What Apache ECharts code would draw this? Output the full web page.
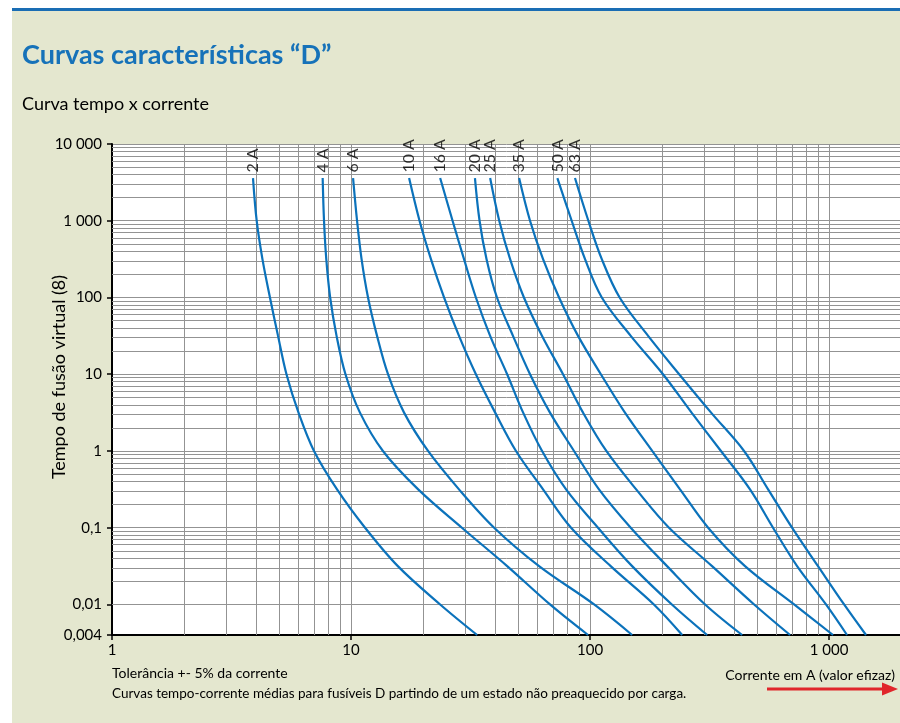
<!DOCTYPE html>
<html><head><meta charset="utf-8">
<script src="https://cdn.jsdelivr.net/npm/echarts@6/dist/echarts.min.js"></script>
<style>html,body{margin:0;padding:0;background:#fff;overflow:hidden}#c{width:900px;height:723px}</style>
</head><body><div id="c"></div>
<script>
// ---- data: melting time (s) levels and the current (A) read for each fuse at those times ----
const fuseNames  = ['2 A','4 A','6 A','10 A','16 A','20 A','25 A','35 A','50 A','63 A'];
const timeLevels = [3600, 1000, 316, 100, 31.6, 10, 3.16, 1, 0.316, 0.1, 0.0316, 0.01, 0.004];
const current2A  = [3.89, 4.03, 4.26, 4.58, 4.95, 5.37, 6.03, 7.00, 8.74, 11.45, 15.7, 23.6, 33.7];
const current4A  = [7.61, 7.71, 7.88, 8.18, 8.70, 9.48, 10.9, 13.6, 19.1, 29.1, 45.0, 68.0, 98.1];
const current6A  = [10.2, 10.6, 11.07, 11.78, 12.85, 14.28, 16.67, 21.0, 28.3, 39.7, 61.2, 104, 150];
const current10A = [17.5, 19.35, 21.6, 24.5, 28.3, 33.3, 40.1, 49.0, 63.6, 83.3, 122, 185, 243];
const current16A = [23.6, 26.6, 29.7, 33.3, 38.2, 45.0, 52.5, 63.0, 79.4, 108, 150, 220, 309];
const current20A = [33.0, 34.5, 36.9, 40.8, 47.6, 56.1, 68.0, 85.7, 109, 148, 210, 303, 433];
const current25A = [38.2, 41.7, 46.3, 52.9, 63.0, 77.1, 93.5, 117, 156, 214, 324, 486, 687];
const current35A = [50.5, 56.1, 63.6, 74.2, 89.1, 111, 140, 182, 238, 312, 445, 714, 1039];
const current50A = [73.0, 83.8, 95.3, 112, 148, 202, 266, 353, 467, 583, 735, 971, 1189];
const current63A = [86.5, 98.4, 112, 133, 175, 236, 321, 441, 556, 700, 899, 1156, 1428];

const xTickValues = [1, 10, 100, 1000];
const xTickLabels = ['1', '10', '100', '1 000'];
const yTickValues = [10000, 1000, 100, 10, 1, 0.1, 0.01, 0.004];
const yTickLabels = ['10 000', '1 000', '100', '10', '1', '0,1', '0,01', '0,004'];

const titleText = 'Curvas características “D”';
const subtitleText = 'Curva tempo x corrente';
const yName = 'Tempo de fusão virtual (8)';
const xName = 'Corrente em A (valor efizaz)';
const note1 = 'Tolerância +- 5% da corrente';
const note2 = 'Curvas tempo-corrente médias para fusíveis D partindo de um estado não preaquecido por carga.';

// ---- chart ----
const currents = [current2A, current4A, current6A, current10A, current16A, current20A, current25A, current35A, current50A, current63A];
const curves = currents.map(arr => arr.map((c, i) => [c, timeLevels[i]]));
const FONT = 'Lato';
const X_MIN = 1, X_MAX = 2000, Y_MIN = 0.004, Y_MAX = 10000;

function lookup(values, labels) {
  return function (v) {
    const i = values.findIndex(t => Math.abs(Math.log10(t) - Math.log10(v)) < 1e-6);
    return i >= 0 ? labels[i] : '';
  };
}

// minor log grid values (2..9 per decade)
const xMinor = [], yMinor = [];
for (let e = 0; e <= 2; e++) for (let k = 2; k <= 9; k++) xMinor.push(k * Math.pow(10, e));
for (let e = -3; e <= 3; e++) for (let k = 2; k <= 9; k++) {
  const v = +(k * Math.pow(10, e)).toPrecision(6);
  if (v > Y_MIN && v < Y_MAX) yMinor.push(v);
}

const GRID_COLOR = '#939393';
const series = [{
  type: 'line', data: [], z: 1, silent: true,
  markLine: {
    silent: true, animation: false, symbol: ['none', 'none'],
    label: { show: false },
    lineStyle: { color: GRID_COLOR, width: 1, type: 'solid' },
    emphasis: { disabled: true },
    data: xMinor.map(v => ({ xAxis: v })).concat(yMinor.map(v => ({ yAxis: v })))
  }
}];
curves.forEach((c, i) => {
  series.push({
    type: 'line', name: fuseNames[i], data: c, z: 5, silent: true,
    symbol: 'none', showSymbol: false, smooth: 0.35,
    lineStyle: { color: '#0b72bb', width: 2.2 }, animation: false
  });
});
series.push({
  type: 'scatter', z: 6, silent: true, symbolSize: 1,
  itemStyle: { color: 'rgba(0,0,0,0)' },
  data: curves.map((c, i) => ({ value: c[0], name: fuseNames[i] })),
  label: {
    show: true, formatter: '{b}', position: 'top', distance: 5, rotate: 90,
    align: 'left', verticalAlign: 'middle',
    color: '#000', fontSize: 16, fontFamily: FONT
  },
  animation: false
});

const chart = echarts.init(document.getElementById('c'), null, { renderer: 'canvas' });
chart.setOption({
  backgroundColor: '#fff',
  animation: false,
  grid: { left: 112, top: 144, width: 789, height: 491, show: true, backgroundColor: '#fff', borderWidth: 0, outerBoundsMode: 'none' },
  xAxis: {
    type: 'log', logBase: 10, min: X_MIN, max: X_MAX,
    axisLine: { show: true, lineStyle: { color: '#000', width: 2 } },
    axisTick: { show: true, length: 5, lineStyle: { color: '#000', width: 1.5 } },
    axisLabel: { formatter: lookup(xTickValues, xTickLabels), showMaxLabel: false, color: '#000', fontSize: 15, fontFamily: FONT, margin: 8 },
    splitLine: { show: true, lineStyle: { color: GRID_COLOR, width: 1 } },
    minorTick: { show: false }, minorSplitLine: { show: false }
  },
  yAxis: {
    type: 'log', logBase: 10, min: Y_MIN, max: Y_MAX,
    axisLine: { show: true, lineStyle: { color: '#000', width: 2 } },
    axisTick: { show: true, length: 5, lineStyle: { color: '#000', width: 1.5 } },
    axisLabel: { formatter: lookup(yTickValues, yTickLabels), color: '#000', fontSize: 15, fontFamily: FONT, margin: 10 },
    splitLine: { show: true, lineStyle: { color: GRID_COLOR, width: 1 } },
    minorTick: { show: false }, minorSplitLine: { show: false }
  },
  graphic: [
    { type: 'rect', left: 12, top: 8, shape: { width: 888, height: 715 }, style: { fill: '#e4e7cf' }, z: -10 },
    { type: 'rect', left: 12, top: 8, shape: { width: 888, height: 3 }, style: { fill: '#1a6db4' }, z: -9 },
    { type: 'text', x: 22, y: 55, style: { text: titleText, fill: '#1672b9', font: 'bold 27px Lato', verticalAlign: 'middle' } },
    { type: 'text', x: 22, y: 104, style: { text: subtitleText, fill: '#000', font: '18px Lato', verticalAlign: 'middle' } },
    { type: 'text', x: 59, y: 377, rotation: Math.PI / 2, style: { text: yName, fill: '#000', font: '18px Lato', align: 'center', verticalAlign: 'middle' } },
    { type: 'text', x: 112, y: 673, style: { text: note1, fill: '#000', font: '14px Lato', verticalAlign: 'middle' } },
    { type: 'text', x: 112, y: 694, style: { text: note2, fill: '#000', font: '13.5px Lato', verticalAlign: 'middle' } },
    { type: 'text', x: 895, y: 675, style: { text: xName, fill: '#000', font: '14px Lato', align: 'right', verticalAlign: 'middle' } },
    { type: 'line', shape: { x1: 767, y1: 689, x2: 884, y2: 689 }, style: { stroke: '#e0262b', lineWidth: 3 } },
    { type: 'polygon', shape: { points: [[882, 682.5], [898, 689], [882, 695.5]] }, style: { fill: '#e0262b' } }
  ],
  series: series
});
</script>
</body></html>
